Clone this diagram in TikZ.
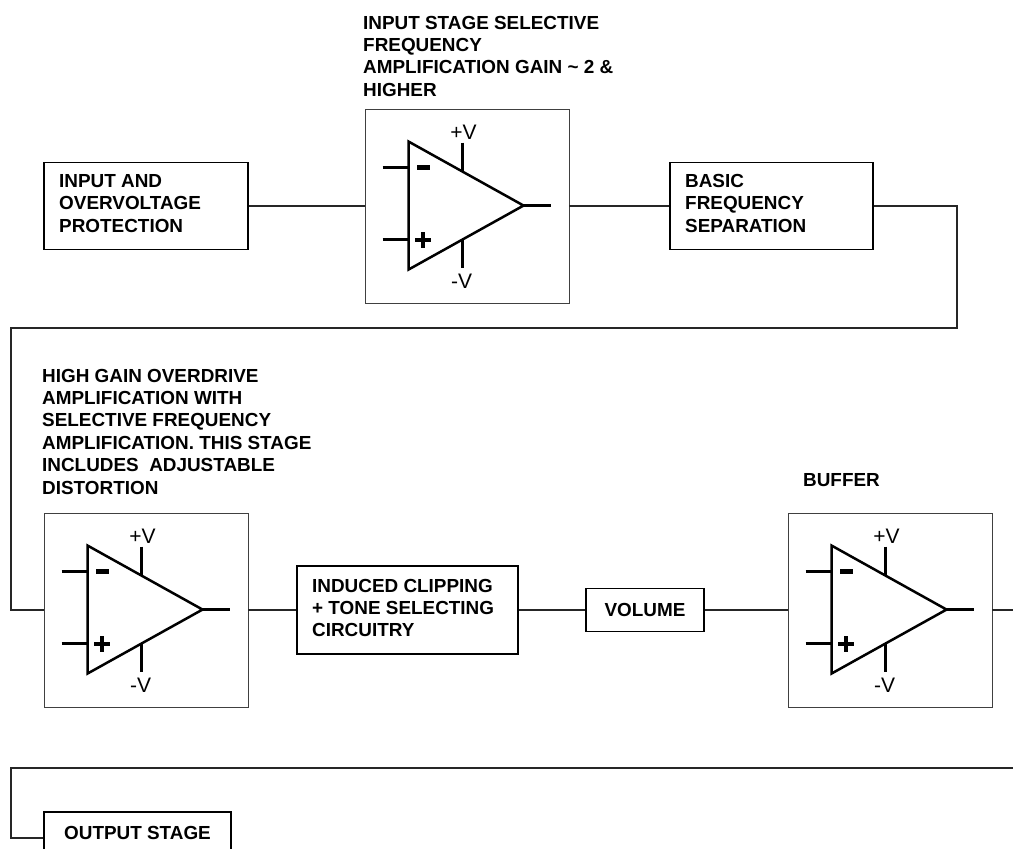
\documentclass[tikz,border=0pt]{standalone}
\usepackage{fontspec}
\setmainfont{Liberation Sans}
\begin{document}
\begin{tikzpicture}[x=1pt,y=-1pt,
  lbl/.style={font=\fontsize{18.9}{22.4}\selectfont\bfseries,inner sep=0pt},
  blk/.style={draw=black,line width=1.2pt,inner sep=0pt,fill=white},
  ampbox/.style={draw=black!75,line width=0.9pt,inner sep=0pt,minimum width=204pt,minimum height=194pt},
  wire/.style={draw=black!85,line width=1.2pt},
  amp/.style={draw=black,line width=2.5pt},
  supply/.style={font=\fontsize{21}{25}\selectfont,inner sep=0pt},
  opamp/.pic={
    \draw[amp,line join=miter] (44,33) -- (159,97) -- (44,161) -- cycle;
    \draw[amp] (18,59) -- (44,59) (18,131) -- (44,131) (159,97) -- (186,97);
    \draw[amp] (98,34) -- (98,63) (98,131) -- (98,159);
    \node[supply] (pv) at (99,24) {+V};
    \node[supply] (nv) at (97,173) {-V};
    \draw[line width=5pt] (52.5,59) -- (65,59);
    \draw[line width=3.8pt] (50.5,131.5) -- (66,131.5) (58.3,123.6) -- (58.3,139.4);
  }
]
\clip (0,0) rectangle (1013,849);
\fill[white] (0,0) rectangle (1013,849);

% top row
\node[blk,minimum width=204pt,minimum height=87pt] (inbox) at (146,206) {};
\node[ampbox] (oa1) at (467,206) {};
\node[blk,minimum width=203pt,minimum height=87pt] (basic) at (771.5,206) {};
\pic (oa1p) at (oa1.north west) {opamp};

\node[lbl,anchor=base west] (tin) at (59,187.5) {\vtop{\hbox{INPUT AND}\hbox{OVERVOLTAGE}\hbox{PROTECTION}}};
\node[lbl,anchor=base west] (tbasic) at (685,187.5) {\vtop{\hbox{BASIC}\hbox{FREQUENCY}\hbox{SEPARATION}}};
\node[lbl,anchor=base west] (thead1) at (363,29) {\vtop{\hbox{INPUT STAGE SELECTIVE}\hbox{FREQUENCY}\hbox{AMPLIFICATION GAIN \char`~{} 2 \&}\hbox{HIGHER}}};

% middle row
\node[ampbox] (oa2) at (146,610) {};
\node[blk,minimum width=221pt,minimum height=88pt] (induced) at (407.5,610) {};
\node[blk,minimum width=118pt,minimum height=43pt,font=\fontsize{18.9}{22.4}\selectfont\bfseries] (volume) at (645,610) {VOLUME};
\node[ampbox] (oa3) at (890,610) {};
\pic (oa2p) at (oa2.north west) {opamp};
\pic (oa3p) at (oa3.north west) {opamp};

\node[lbl,anchor=base west] (tinduced) at (312,592) {\vtop{\hbox{INDUCED CLIPPING}\hbox{+ TONE SELECTING}\hbox{CIRCUITRY}}};
\node[lbl,anchor=base west] (thead2) at (42,382) {\vtop{\hbox{HIGH GAIN OVERDRIVE}\hbox{AMPLIFICATION WITH}\hbox{SELECTIVE FREQUENCY}\hbox{AMPLIFICATION. THIS STAGE}\hbox{INCLUDES \ ADJUSTABLE}\hbox{DISTORTION}}};
\node[lbl,anchor=base west] (tbuffer) at (803,486) {BUFFER};

% bottom row
\node[blk,minimum width=187pt,minimum height=52pt] (outbox) at (137.5,838) {};
\node[lbl,anchor=base] (tout) at (137.5,839) {OUTPUT STAGE};

% connectors
\coordinate (r1) at (957,328);
\coordinate (l1) at (11,328);
\coordinate (e1) at (1013,610);
\coordinate (e2) at (1013,768);
\coordinate (l2) at (11,768);
\draw[wire] (inbox.east) -- (oa1.west);
\draw[wire] (oa1.east) -- (basic.west);
\draw[wire] (basic.east) -| (r1) -- (l1) |- (oa2.west);
\draw[wire] (oa2.east) -- (induced.west);
\draw[wire] (induced.east) -- (volume.west);
\draw[wire] (volume.east) -- (oa3.west);
\draw[wire] (oa3.east) -- (e1);
\draw[wire] (e2) -- (l2) |- (outbox.west);
\end{tikzpicture}
\end{document}
